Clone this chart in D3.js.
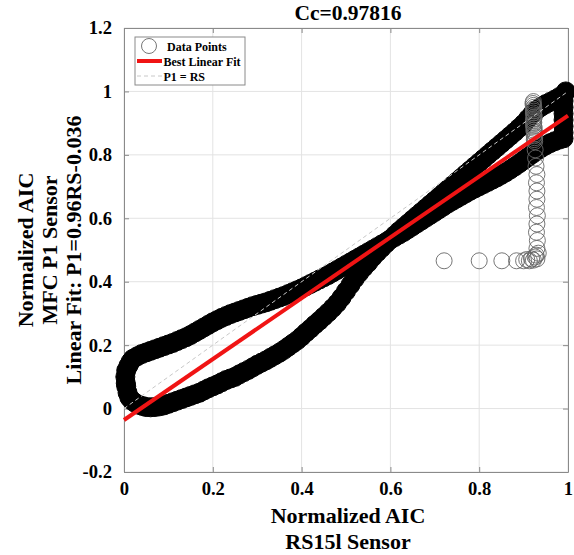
<!DOCTYPE html>
<html lang="en">
<head>
<meta charset="UTF-8">
<title>Cc=0.97816</title>
<style>
  * { margin: 0; padding: 0; box-sizing: border-box; }
  body { background: #fff; width: 574px; height: 555px; overflow: hidden; }
  svg { display: block; font-family: 'Liberation Serif', 'Times New Roman', serif; font-weight: bold; }
  .grid line { stroke: #e3e3e3; stroke-width: 1; }
  .axis path, .axis line { stroke: #8a8a8a; }
  .axis text { fill: #000; font-size: 18.6px; font-family: 'Liberation Serif', serif; font-weight: bold; }
</style>
</head>
<body>
<svg width="574" height="555"></svg>
<script src="https://cdn.jsdelivr.net/npm/d3@7/dist/d3.min.js"></script>
<script>
// Loop branch that starts low on the left and ends top right
const lowerX = [0.005, 0.008, 0.012, 0.018, 0.025, 0.033, 0.042, 0.05, 0.06, 0.07, 0.08, 0.09, 0.10, 0.11, 0.12, 0.13, 0.14, 0.15, 0.16, 0.17, 0.18, 0.19, 0.20, 0.21, 0.22, 0.23, 0.24, 0.25, 0.26, 0.27, 0.28, 0.29, 0.30, 0.31, 0.32, 0.33, 0.34, 0.35, 0.36, 0.37, 0.38, 0.39, 0.40, 0.41, 0.42, 0.43, 0.44, 0.45, 0.46, 0.47, 0.48, 0.49, 0.50, 0.51, 0.52, 0.53, 0.54, 0.55, 0.56, 0.57, 0.58, 0.59, 0.60, 0.61, 0.62, 0.63, 0.64, 0.65, 0.66, 0.67, 0.68, 0.69, 0.70, 0.71, 0.72, 0.73, 0.74, 0.75, 0.76, 0.77, 0.78, 0.79, 0.80, 0.81, 0.82, 0.83, 0.84, 0.85, 0.86, 0.87, 0.88, 0.89, 0.90, 0.91, 0.92, 0.93, 0.94, 0.95, 0.96, 0.97, 0.98, 0.99, 0.995];
const lowerY = [0.07, 0.05, 0.035, 0.025, 0.018, 0.012, 0.008, 0.005, 0.004, 0.005, 0.007, 0.01, 0.015, 0.02, 0.025, 0.03, 0.035, 0.04, 0.045, 0.05, 0.057, 0.064, 0.07, 0.076, 0.083, 0.09, 0.095, 0.10, 0.108, 0.115, 0.122, 0.13, 0.138, 0.145, 0.152, 0.16, 0.168, 0.176, 0.185, 0.195, 0.205, 0.215, 0.227, 0.24, 0.252, 0.265, 0.277, 0.29, 0.303, 0.317, 0.332, 0.35, 0.37, 0.39, 0.41, 0.428, 0.445, 0.46, 0.477, 0.492, 0.506, 0.52, 0.534, 0.547, 0.56, 0.572, 0.584, 0.596, 0.608, 0.62, 0.632, 0.644, 0.656, 0.668, 0.68, 0.692, 0.704, 0.716, 0.728, 0.74, 0.752, 0.764, 0.776, 0.788, 0.80, 0.812, 0.824, 0.836, 0.848, 0.86, 0.872, 0.885, 0.898, 0.914, 0.93, 0.942, 0.952, 0.96, 0.967, 0.974, 0.982, 0.99, 1.0];
// Loop branch that starts high on the left and ends lower right
const upperX = [0.004, 0.003, 0.005, 0.01, 0.015, 0.02, 0.03, 0.04, 0.05, 0.06, 0.07, 0.08, 0.09, 0.10, 0.11, 0.12, 0.13, 0.14, 0.15, 0.16, 0.17, 0.18, 0.19, 0.20, 0.21, 0.22, 0.23, 0.24, 0.25, 0.26, 0.27, 0.28, 0.29, 0.30, 0.31, 0.32, 0.33, 0.34, 0.35, 0.36, 0.37, 0.38, 0.39, 0.40, 0.41, 0.42, 0.43, 0.44, 0.45, 0.46, 0.47, 0.48, 0.49, 0.50, 0.51, 0.52, 0.53, 0.54, 0.55, 0.56, 0.57, 0.58, 0.59, 0.60, 0.61, 0.62, 0.63, 0.64, 0.65, 0.66, 0.67, 0.68, 0.69, 0.70, 0.71, 0.72, 0.73, 0.74, 0.75, 0.76, 0.77, 0.78, 0.79, 0.80, 0.81, 0.82, 0.83, 0.84, 0.85, 0.86, 0.87, 0.88, 0.89, 0.90, 0.91, 0.92, 0.93, 0.94, 0.95, 0.96, 0.97, 0.98, 0.99, 0.99, 0.99, 0.99, 0.99, 0.99, 0.99, 0.99];
const upperY = [0.08, 0.10, 0.12, 0.135, 0.148, 0.157, 0.165, 0.172, 0.177, 0.182, 0.187, 0.192, 0.197, 0.202, 0.207, 0.213, 0.219, 0.225, 0.232, 0.24, 0.248, 0.256, 0.264, 0.272, 0.279, 0.286, 0.292, 0.298, 0.303, 0.308, 0.313, 0.318, 0.323, 0.327, 0.331, 0.335, 0.34, 0.345, 0.35, 0.355, 0.361, 0.367, 0.373, 0.379, 0.386, 0.393, 0.4, 0.407, 0.414, 0.421, 0.429, 0.437, 0.445, 0.453, 0.461, 0.469, 0.477, 0.485, 0.493, 0.501, 0.509, 0.517, 0.525, 0.533, 0.541, 0.549, 0.557, 0.566, 0.575, 0.584, 0.593, 0.602, 0.611, 0.62, 0.629, 0.638, 0.647, 0.655, 0.663, 0.671, 0.679, 0.687, 0.694, 0.701, 0.708, 0.715, 0.722, 0.729, 0.737, 0.745, 0.754, 0.763, 0.773, 0.783, 0.793, 0.803, 0.813, 0.822, 0.83, 0.837, 0.843, 0.848, 0.852, 0.87, 0.89, 0.91, 0.93, 0.95, 0.97, 0.985];
// Sparse points: horizontal run at ~0.466, the column at x ~0.93 and its dense top
const sparseX = [0.721, 0.800, 0.851, 0.884, 0.900, 0.907, 0.913, 0.918, 0.922, 0.926, 0.930, 0.928, 0.933, 0.930, 0.931, 0.929, 0.930, 0.931, 0.929, 0.930, 0.930, 0.929, 0.930, 0.928, 0.927, 0.926, 0.925, 0.924, 0.925, 0.924, 0.925, 0.924, 0.923, 0.924, 0.923, 0.922, 0.923, 0.922, 0.923, 0.924, 0.923, 0.922, 0.923, 0.922, 0.923, 0.922, 0.921, 0.922];
const sparseY = [0.466, 0.466, 0.466, 0.466, 0.466, 0.470, 0.466, 0.472, 0.468, 0.478, 0.472, 0.484, 0.490, 0.505, 0.530, 0.556, 0.582, 0.608, 0.634, 0.660, 0.686, 0.712, 0.738, 0.764, 0.790, 0.816, 0.842, 0.848, 0.854, 0.860, 0.866, 0.872, 0.878, 0.884, 0.890, 0.896, 0.902, 0.908, 0.914, 0.920, 0.926, 0.932, 0.938, 0.944, 0.950, 0.956, 0.962, 0.968];

const fitSlope = 0.96, fitIntercept = -0.036;
const xTicks = [0, 0.2, 0.4, 0.6, 0.8, 1];
const yTicks = [-0.2, 0, 0.2, 0.4, 0.6, 0.8, 1, 1.2];
const title = 'Cc=0.97816';
const xLabel = ['Normalized AIC', 'RS15l Sensor'];
const yLabel = ['Normalized AIC', 'MFC P1 Sensor', 'Linear Fit: P1=0.96RS-0.036'];
const legendItems = ['Data Points', 'Best Linear Fit', 'P1 = RS'];

const margin = { top: 28, right: 6, bottom: 83, left: 124 };
const W = 574, H = 555;
const w = W - margin.left - margin.right, h = H - margin.top - margin.bottom;

const x = d3.scaleLinear().domain([0, 1]).range([0, w]);
const y = d3.scaleLinear().domain([-0.2, 1.2]).range([h, 0]);
const fmt = d => String(+d.toFixed(1));

const svg = d3.select('svg');
const g = svg.append('g').attr('transform', `translate(${margin.left},${margin.top})`);

// Grid
const grid = g.append('g').attr('class', 'grid');
grid.selectAll('.gx').data(xTicks).enter().append('line')
  .attr('x1', d => x(d)).attr('x2', d => x(d)).attr('y1', 0).attr('y2', h);
grid.selectAll('.gy').data(yTicks).enter().append('line')
  .attr('y1', d => y(d)).attr('y2', d => y(d)).attr('x1', 0).attr('x2', w);

// Axes (ticks inward, box on)
g.append('g').attr('class', 'axis').attr('transform', `translate(0,${h})`)
  .call(d3.axisBottom(x).tickValues(xTicks).tickFormat(fmt).tickSizeInner(-5).tickSizeOuter(0).tickPadding(10));
g.append('g').attr('class', 'axis')
  .call(d3.axisLeft(y).tickValues(yTicks).tickFormat(fmt).tickSizeInner(-5).tickSizeOuter(0).tickPadding(12));
g.append('g').attr('class', 'axis')
  .call(d3.axisTop(x).tickValues(xTicks).tickFormat('').tickSizeInner(-5).tickSizeOuter(0));
g.append('g').attr('class', 'axis').attr('transform', `translate(${w},0)`)
  .call(d3.axisRight(y).tickValues(yTicks).tickFormat('').tickSizeInner(-5).tickSizeOuter(0));

// Data points
const loopPts = lowerX.map((v, i) => [v, lowerY[i]]).concat(upperX.map((v, i) => [v, upperY[i]]));
const sparsePts = sparseX.map((v, i) => [v, sparseY[i]]);

g.append('g').selectAll('circle').data(loopPts).enter().append('circle')
  .attr('cx', d => x(d[0])).attr('cy', d => y(d[1])).attr('r', 9.5)
  .attr('fill', '#000').attr('stroke', '#000').attr('stroke-width', 1);
g.append('g').selectAll('circle').data(sparsePts).enter().append('circle')
  .attr('cx', d => x(d[0])).attr('cy', d => y(d[1])).attr('r', 8)
  .attr('fill', 'none').attr('stroke', '#666').attr('stroke-width', 0.9);

// Best linear fit
g.append('line')
  .attr('x1', x(0)).attr('y1', y(fitIntercept))
  .attr('x2', x(1)).attr('y2', y(fitSlope + fitIntercept))
  .attr('stroke', '#f01414').attr('stroke-width', 4);

// P1 = RS
g.append('line')
  .attr('x1', x(0)).attr('y1', y(0)).attr('x2', x(1)).attr('y2', y(1))
  .attr('stroke', '#c8c8c8').attr('stroke-width', 1).attr('stroke-dasharray', '4,3');

// Legend
const lg = svg.append('g').attr('transform', 'translate(135,37)');
lg.append('rect').attr('width', 110).attr('height', 48)
  .attr('fill', '#fff').attr('stroke', '#8a8a8a').attr('stroke-width', 1);
lg.append('circle').attr('cx', 14).attr('cy', 9).attr('r', 7.5)
  .attr('fill', 'none').attr('stroke', '#666').attr('stroke-width', 0.9);
lg.append('line').attr('x1', 2).attr('x2', 27).attr('y1', 24).attr('y2', 24)
  .attr('stroke', '#f01414').attr('stroke-width', 4);
lg.append('line').attr('x1', 2).attr('x2', 27).attr('y1', 39).attr('y2', 39)
  .attr('stroke', '#c8c8c8').attr('stroke-width', 1).attr('stroke-dasharray', '4,3');
lg.selectAll('text').data(legendItems).enter().append('text')
  .attr('x', (d, i) => i === 0 ? 32 : 28.5).attr('y', (d, i) => 13.5 + i * 15)
  .attr('font-size', 12).attr('fill', '#000').text(d => d);

// Title
svg.append('text').attr('x', margin.left + w / 2 + 2).attr('y', 20)
  .attr('text-anchor', 'middle').attr('font-size', 21.5).text(title);

// X label
svg.selectAll('.xl').data(xLabel).enter().append('text')
  .attr('x', margin.left + w / 2 + 2).attr('y', (d, i) => 523 + i * 26)
  .attr('text-anchor', 'middle').attr('font-size', 22).text(d => d);

// Y label
svg.selectAll('.yl').data(yLabel).enter().append('text')
  .attr('transform', (d, i) => `translate(${33 + i * 24},${margin.top + h / 2}) rotate(-90)`)
  .attr('text-anchor', 'middle').attr('font-size', 22).text(d => d);
</script>
</body>
</html>
